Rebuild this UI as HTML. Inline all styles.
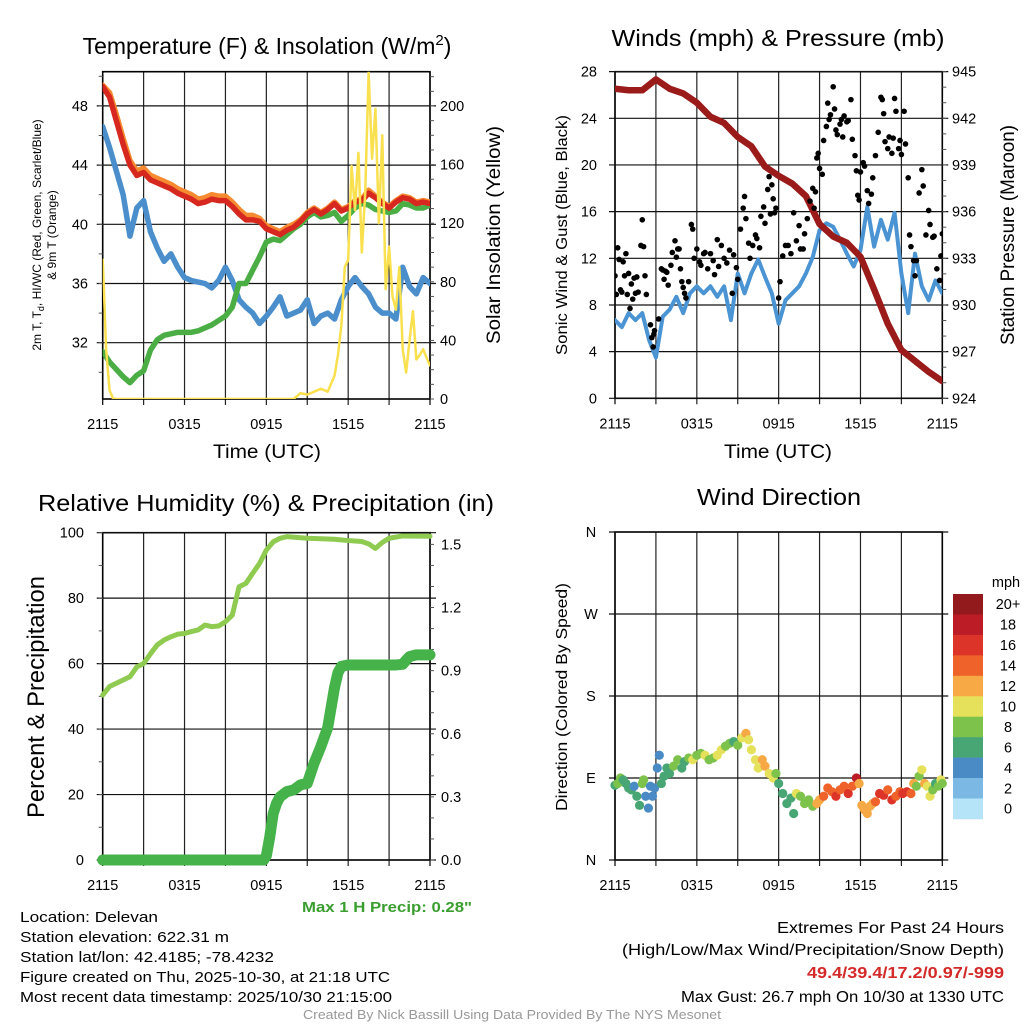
<!DOCTYPE html>
<html><head><meta charset="utf-8">
<style>
html,body{margin:0;padding:0;background:#fff;}
svg{display:block;font-family:"Liberation Sans",Arial,sans-serif;}
</style></head>
<body>
<svg id="fig" xmlns="http://www.w3.org/2000/svg" width="1024" height="1024" viewBox="0 0 1024 1024">
<rect width="1024" height="1024" fill="#fff"/>
<g id="g1"></g>
<g id="g2"></g>
<g id="g3"></g>
<g id="g4"></g>

<text x="267" y="54" font-size="23" text-anchor="middle">Temperature (F) &amp; Insolation (W/m<tspan dy="-9" font-size="15">2</tspan><tspan dy="9">)</tspan></text>
<text x="778" y="46" font-size="23" text-anchor="middle" textLength="333" lengthAdjust="spacingAndGlyphs">Winds (mph) &amp; Pressure (mb)</text>
<text x="266" y="511" font-size="23" text-anchor="middle" textLength="456" lengthAdjust="spacingAndGlyphs">Relative Humidity (%) &amp; Precipitation (in)</text>
<text x="779" y="505" font-size="23" text-anchor="middle" textLength="164" lengthAdjust="spacingAndGlyphs">Wind Direction</text>

<text x="267" y="458" font-size="19" text-anchor="middle" textLength="108" lengthAdjust="spacingAndGlyphs">Time (UTC)</text>
<text x="778" y="458" font-size="19" text-anchor="middle" textLength="108" lengthAdjust="spacingAndGlyphs">Time (UTC)</text>

<text transform="translate(41,235) rotate(-90)" font-size="12" text-anchor="middle">2m T, T<tspan dy="3" font-size="9">d</tspan><tspan dy="-3">, HI/WC (Red, Green, Scarlet/Blue)</tspan></text>
<text transform="translate(56,235) rotate(-90)" font-size="12" text-anchor="middle">&amp; 9m T (Orange)</text>
<text transform="translate(500,235) rotate(-90)" font-size="19" text-anchor="middle" textLength="218" lengthAdjust="spacingAndGlyphs">Solar Insolation (Yellow)</text>
<text transform="translate(567,235) rotate(-90)" font-size="16" text-anchor="middle" textLength="240" lengthAdjust="spacingAndGlyphs">Sonic Wind &amp; Gust (Blue, Black)</text>
<text transform="translate(1014,235) rotate(-90)" font-size="19" text-anchor="middle" textLength="220" lengthAdjust="spacingAndGlyphs">Station Pressure (Maroon)</text>
<text transform="translate(44,697) rotate(-90)" font-size="24" text-anchor="middle" textLength="242" lengthAdjust="spacingAndGlyphs">Percent &amp; Precipitation</text>
<text transform="translate(567,697) rotate(-90)" font-size="16" text-anchor="middle" textLength="228" lengthAdjust="spacingAndGlyphs">Direction (Colored By Speed)</text>

<text x="472" y="912" font-size="15" font-weight="bold" fill="#3a9e2f" text-anchor="end" textLength="170" lengthAdjust="spacingAndGlyphs">Max 1 H Precip: 0.28"</text>

<g font-size="15">
<text x="20" y="922" textLength="138" lengthAdjust="spacingAndGlyphs">Location: Delevan</text>
<text x="20" y="942" textLength="209" lengthAdjust="spacingAndGlyphs">Station elevation: 622.31 m</text>
<text x="20" y="962" textLength="254" lengthAdjust="spacingAndGlyphs">Station lat/lon: 42.4185; -78.4232</text>
<text x="20" y="982" textLength="370" lengthAdjust="spacingAndGlyphs">Figure created on Thu, 2025-10-30, at 21:18 UTC</text>
<text x="20" y="1002" textLength="372" lengthAdjust="spacingAndGlyphs">Most recent data timestamp: 2025/10/30 21:15:00</text>
</g>
<g font-size="15.5" text-anchor="end">
<text x="1004" y="933" textLength="227" lengthAdjust="spacingAndGlyphs">Extremes For Past 24 Hours</text>
<text x="1004" y="955" textLength="382" lengthAdjust="spacingAndGlyphs">(High/Low/Max Wind/Precipitation/Snow Depth)</text>
<text x="1004" y="978" font-weight="bold" fill="#d42a2a" textLength="197" lengthAdjust="spacingAndGlyphs">49.4/39.4/17.2/0.97/-999</text>
<text x="1004" y="1002" textLength="323" lengthAdjust="spacingAndGlyphs">Max Gust: 26.7 mph On 10/30 at 1330 UTC</text>
</g>
<text x="512" y="1019" font-size="12.5" fill="#999" text-anchor="middle" textLength="418" lengthAdjust="spacingAndGlyphs">Created By Nick Bassill Using Data Provided By The NYS Mesonet</text>
</svg>

<script>
// ---- Panel 1 data (half-hourly, hours since 2115) ----
const tempRed = [49.3,48.6,47.0,45.4,44.0,43.3,43.5,43.0,42.8,42.6,42.4,42.1,41.9,41.7,41.4,41.5,41.7,41.6,41.6,41.2,40.7,40.3,40.3,40.2,39.7,39.5,39.3,39.6,39.8,40.2,40.7,41.0,40.7,41.0,41.4,40.9,41.1,41.5,41.6,42.1,41.8,41.4,41.1,41.5,41.8,41.7,41.4,41.5,41.4];
const tempOrange = [49.4,48.9,47.4,45.8,44.3,43.6,43.8,43.3,43.1,42.9,42.7,42.4,42.2,42.0,41.7,41.8,42.0,41.9,41.9,41.5,41.0,40.6,40.6,40.4,39.9,39.7,39.5,39.8,40.0,40.3,40.8,41.1,40.8,41.1,41.5,41.0,41.2,41.6,41.7,42.3,41.9,41.5,41.2,41.6,41.9,41.8,41.5,41.6,41.5];
const tempGreen = [31.4,30.7,30.2,29.7,29.3,29.8,30.1,31.5,32.2,32.5,32.6,32.7,32.7,32.7,32.8,33.0,33.2,33.5,33.8,34.4,36.0,36.0,36.9,37.8,38.8,39.0,38.9,39.3,39.7,40.0,40.5,40.8,40.5,40.6,40.8,40.2,40.6,41.1,41.4,41.3,41.0,40.9,40.8,40.9,41.4,41.3,41.1,41.1,41.3];
const tempBlue = [46.6,45.2,43.6,42.0,39.2,41.1,41.6,39.5,38.4,37.5,38.0,37.1,36.4,36.2,36.1,36.0,35.7,36.2,37.1,36.2,34.9,34.4,34.0,33.3,33.8,34.4,35.1,33.8,34.0,34.2,34.9,33.3,33.8,34.0,33.6,34.9,35.8,36.4,35.8,35.3,34.4,34.0,34.0,33.6,37.1,35.8,35.3,36.4,36.0];
const solarT = [0,0.1,0.25,0.5,0.75,1,14,14.5,15,15.5,16,16.5,17,17.25,17.5,17.75,18,18.25,18.5,18.75,19,19.25,19.5,19.75,20,20.25,20.5,20.75,21,21.25,21.5,21.75,22,22.25,22.5,22.75,23,23.25,23.5,23.75,24];
const solarV = [95,72,34,6,0.5,0,0,4,3,5,7,5,16,30,50,90,95,159,129,168,100,141,223,164,198,120,180,75,104,70,61,90,34,18,40,60,27,30,34,28,23];
const tempTicks = [32,36,40,44,48];
const solarTicks = [0,40,80,120,160,200];
const timeLabels = ["2115","0315","0915","1515","2115"];
// ---- Panel 2 data ----
const pressure = [943.9,943.8,943.8,944.5,943.9,943.6,943.0,942.1,941.7,940.8,940.2,938.9,938.3,937.8,937.0,935.2,934.4,934.0,933.1,931.0,928.8,927.1,926.4,925.7,925.1];
const windSpeed = [6.7,6.1,7.3,6.7,7.3,5.0,3.5,7.0,7.6,8.7,7.3,9.0,9.6,9.0,9.6,8.7,9.6,6.7,10.7,9.0,10.7,11.9,10.4,9.0,6.4,8.4,9.0,9.6,10.7,12.1,14.4,15.0,14.7,13.6,12.4,11.3,12.7,16.4,13.0,15.3,13.6,15.9,10.7,7.3,12.4,9.6,8.4,10.1,9.0];
const gustT = [0,0.1,0.2,0.3,0.4,0.5,0.6,0.7,0.8,0.9,1,1.1,1.2,1.3,1.4,1.5,1.6,1.7,1.9,2.0,2.1,2.2,2.3,2.6,2.7,2.8,2.85,2.9,3.2,3.4,3.5,3.6,3.7,3.8,3.9,4.1,4.2,4.4,4.5,4.6,4.7,4.8,4.9,5.0,5.1,5.2,5.4,5.6,5.7,5.8,6.0,6.2,6.3,6.5,6.6,6.8,7.0,7.2,7.3,7.5,7.6,7.8,8.0,8.2,8.4,8.6,8.7,8.9,9.0,9.2,9.4,9.5,9.6,9.8,9.9,10.1,10.3,10.4,10.6,10.7,10.9,11.0,11.2,11.3,11.4,11.5,11.6,11.7,11.8,12.0,12.1,12.3,12.5,12.7,12.9,13.1,13.3,13.5,13.6,13.8,13.9,14.1,14.3,14.5,14.6,14.7,14.8,14.9,15.0,15.2,15.3,15.5,15.6,15.7,15.8,16.0,16.1,16.2,16.3,16.5,16.6,16.7,16.8,17.0,17.1,17.3,17.4,17.6,17.7,17.8,17.9,18.0,18.2,18.3,18.5,18.6,18.8,18.9,19.1,19.3,19.5,19.6,19.7,19.8,20.0,20.1,20.3,20.4,20.5,20.6,20.8,20.9,21.0,21.2,21.3,21.5,21.6,21.7,21.9,22.0,22.1,22.3,22.5,22.6,22.8,23.0,23.1,23.3,23.4,23.6,23.8,23.9,24.0];
const gustV = [10.5,8.9,12.9,11.9,9.3,9.1,11.7,10.5,12.4,8.9,10.7,7.7,9.8,8.5,10.3,9.0,10.4,9.1,13.1,15.3,13.0,10.5,8.9,6.3,5.2,4.4,5.5,5.8,6.8,11.1,11.0,10.2,10.9,10.8,9.7,11.4,12.5,13.5,12.1,12.8,12.8,11.1,10.0,9.5,9.0,8.6,10.0,14.9,14.5,12.0,12.8,11.7,11.4,12.4,12.5,11.1,12.4,11.8,10.6,13.6,11.3,13.1,12.0,11.6,12.7,9.0,12.3,11.2,10.2,14.5,16.3,17.3,15.4,13.3,12.0,13.1,14.0,13.7,12.9,15.6,16.4,15.0,17.9,19.0,15.8,18.3,17.1,15.9,16.3,8.6,10.0,12.2,13.1,13.1,12.4,15.9,13.5,14.8,12.8,12.8,14.1,15.4,16.9,18.0,16.3,17.7,20.6,21.0,19.7,19.2,22.1,23.3,25.3,23.9,24.3,26.7,24.8,23.0,22.6,23.5,23.9,22.4,24.2,23.7,23.8,25.6,22.2,20.8,19.5,17.4,17.0,19.4,20.2,19.9,17.8,16.7,17.5,18.9,20.8,22.8,25.8,25.6,24.4,22.0,21.4,22.4,21.0,22.3,25.7,24.6,21.4,22.1,20.9,24.6,21.8,18.9,14.0,13.0,11.8,10.5,11.8,17.6,19.6,18.2,14.0,16.1,14.9,13.8,13.9,11.1,10.1,12.2,14.1];
const windTicks = [0,4,8,12,16,20,24,28];
const pressTicks = [924,927,930,933,936,939,942,945];
// ---- Panel 3 data ----
const rhT = [0,0.5,1,1.5,2,2.5,3,3.5,4,4.5,5,5.5,6,6.5,7,7.5,8,8.5,9,9.5,10,10.5,11,11.5,12,12.5,13,13.5,15,17,18,19,19.5,20,20.5,21,22,24];
const rhV = [50.4,53,54,55,56,59,60,63,65.7,67.2,68.2,69,69.2,69.8,70.3,71.8,71.3,71.5,72.8,74.8,83.5,84.5,87.6,90.6,94.7,97.2,98.3,98.8,98.3,98.0,97.6,97.3,96.6,95.2,97.0,98.3,99,98.9];
const precipT = [0,11.8,12,12.25,12.5,12.75,13,13.5,14,14.5,15,15.5,16,16.5,17,17.25,17.5,18,21.5,22,22.25,22.5,23,24];
const precipV = [0,0,0.02,0.11,0.22,0.27,0.30,0.325,0.333,0.357,0.364,0.46,0.54,0.63,0.82,0.89,0.92,0.927,0.927,0.93,0.95,0.967,0.975,0.975];
const rhTicks = [0,20,40,60,80,100];
const precipTicks = [0,0.3,0.6,0.9,1.2,1.5];
// ---- Panel 4 data ----
const dirT = [0,0.2,0.4,0.6,0.8,1.0,1.2,1.4,1.6,1.8,2.0,2.1,2.25,2.45,2.6,2.75,2.9,3.1,3.25,3.4,3.6,3.8,4.0,4.3,4.6,4.9,5.1,5.4,5.7,6.0,6.3,6.6,6.9,7.2,7.5,7.8,8.1,8.4,8.7,9.0,9.3,9.6,9.8,10.0,10.3,10.5,10.8,11.0,11.3,11.6,11.8,12.0,12.3,12.6,12.9,13.1,13.3,13.6,13.9,14.2,14.5,14.8,15.0,15.3,15.6,15.9,16.2,16.5,16.8,17.1,17.4,17.7,17.9,18.1,18.3,18.5,18.7,18.9,19.1,19.4,19.7,20.0,20.3,20.6,20.9,21.1,21.4,21.7,21.9,22.1,22.3,22.5,22.7,22.9,23.1,23.3,23.5,23.7,23.9,24.0];
const dirDeg = [82,84,90,88,84,79,77,81,70,60,84,88,70,57,81,70,79,101,115,84,92,101,95,103,110,101,108,112,110,115,117,115,110,112,115,121,125,128,130,126,134,139,132,121,110,101,110,103,95,90,95,84,73,62,68,51,73,70,62,66,59,62,66,70,79,75,70,77,81,73,81,90,84,60,55,51,59,62,64,73,71,77,66,70,75,73,75,73,84,81,92,99,84,81,70,77,84,81,88,84];
const dirSpd = [6,8,8,6,6,6,6,4,6,6,8,8,4,4,4,4,4,4,4,6,6,6,6,8,8,6,6,8,10,8,8,10,8,8,10,10,8,8,6,8,10,12,10,10,10,10,12,12,10,10,8,6,6,6,6,6,10,8,8,8,8,12,12,14,14,14,16,14,14,16,14,18,12,12,12,12,12,12,14,16,16,14,16,14,14,16,16,14,12,8,8,10,12,10,10,8,6,8,10,8];
const dirTicks = ["N","E","S","W","N"];
const speedBins = ["0","2","4","6","8","10","12","14","16","18","20+"];
const binColors = ["#b5e3f8","#7bb9e4","#4a8bc6","#48a675","#7dc24b","#e6e15b","#f6a945","#ef6229","#dd3429","#bb1c25","#931a1c"];

const NS = "http://www.w3.org/2000/svg";
function mk(parent, tag, attrs) {
  const e = document.createElementNS(NS, tag);
  for (const k in attrs) e.setAttribute(k, attrs[k]);
  parent.appendChild(e);
  return e;
}
function pathD(xs, ys) {
  let d = "";
  for (let i = 0; i < xs.length; i++) d += (i ? "L" : "M") + xs[i].toFixed(2) + "," + ys[i].toFixed(2);
  return d;
}
function halfHours(n) { const a = []; for (let i = 0; i < n; i++) a.push(i * 0.5); return a; }
function hours(n) { const a = []; for (let i = 0; i < n; i++) a.push(i); return a; }

function frame(g, P, nameBase) {
  const sx = h => P.x0 + h / 24 * (P.x1 - P.x0);
  for (let i = 0; i <= 8; i++) {
    const x = sx(i * 3);
    const gl = mk(g, "line", {x1: x, x2: x, y1: P.y0, y2: P.y1 + 6, stroke: i % 8 === 0 ? "#000" : "#222", "stroke-width": 1.2});
    
    
  }
  for (let i = 0; i < 5; i++) {
    const t = mk(g, "text", {x: sx(i * 6), y: P.y1 + 30, "font-size": 14.5, "text-anchor": "middle"});
    t.textContent = timeLabels[i];
    
    
  }
  const r = mk(g, "rect", {x: P.x0, y: P.y0, width: P.x1 - P.x0, height: P.y1 - P.y0, fill: "none", stroke: "#000", "stroke-width": 1.6});
  
  
  return sx;
}
function hgrid(g, P, ys, nameBase) {
  ys.forEach(y => {
    const l = mk(g, "line", {x1: P.x0 - 6, x2: P.x1 + 6, y1: y, y2: y, stroke: "#111", "stroke-width": 1.2});
    
    
  });
}
function labels(g, vals, yf, x, anchor, fmt, nameBase) {
  vals.forEach(v => {
    const t = mk(g, "text", {x: x, y: yf(v) + 5, "font-size": 14.5, "text-anchor": anchor});
    t.textContent = fmt(v);
    
    
  });
}
function minorTicks(g, x, dir, yf, from, to, step) {
  for (let v = from; v <= to + 1e-9; v += step) {
    mk(g, "line", {x1: x, x2: x + dir * 4, y1: yf(v), y2: yf(v), stroke: "#555", "stroke-width": 1});
  }
}

// ===== Panel 1 =====
(function () {
  const g = document.getElementById("g1");
  const P = {x0: 102.7, x1: 430, y0: 71.7, y1: 399};
  const yT = t => 342.7 - (t - 32) * 14.8;
  const yS = s => 399 - s * 1.465;
  const sx = frame(g, P, "temp");
  hgrid(g, P, tempTicks.map(yT), "temp");
  minorTicks(g, P.x0, -1, yT, 30, 50, 2);
  minorTicks(g, P.x1, 1, yS, 0, 220, 10);
  labels(g, tempTicks, yT, 88, "end", v => String(v), "temp-y-tick-label");
  labels(g, solarTicks, yS, 440, "start", v => String(v), "solar-y-tick-label");
  const cp = mk(g, "clipPath", {id: "c1"});
  mk(cp, "rect", {x: P.x0, y: P.y0, width: P.x1 - P.x0, height: P.y1 - P.y0});
  const dg = mk(g, "g", {"clip-path": "url(#c1)", fill: "none", "stroke-linejoin": "round", "stroke-linecap": "round"});
  const hh = halfHours(49);
  const series = [[tempBlue, "#4a8fcc", "dewpoint-line-blue"], [tempGreen, "#4aae45", "dewpoint-line-green"], [tempOrange, "#f58a30", "temp-9m-line-orange"], [tempRed, "#d7281f", "temp-2m-line-red"]];
  series.forEach(s => {
    const p = mk(dg, "path", {d: pathD(hh.map(sx), s[0].map(yT)), stroke: s[1], "stroke-width": 5.5});
    
    
  });
  const sp = mk(dg, "path", {d: pathD(solarT.map(sx), solarV.map(yS)), stroke: "#f9e04f", "stroke-width": 2.5});
  
  
})();

// ===== Panel 2 =====
(function () {
  const g = document.getElementById("g2");
  const P = {x0: 615, x1: 942.3, y0: 71.7, y1: 398.3};
  const yW = m => P.y1 - m * 11.667;
  const yP = p => P.y1 - (p - 924) * 15.556;
  const sx = frame(g, P, "wind");
  hgrid(g, P, windTicks.map(yW), "wind");
  minorTicks(g, P.x1, 1, yP, 924, 945, 1);
  labels(g, windTicks, yW, 597, "end", v => String(v), "wind-y-tick-label");
  labels(g, pressTicks, yP, 952, "start", v => String(v), "pressure-y-tick-label");
  const cp = mk(g, "clipPath", {id: "c2"});
  mk(cp, "rect", {x: P.x0, y: P.y0, width: P.x1 - P.x0, height: P.y1 - P.y0});
  const dg = mk(g, "g", {"clip-path": "url(#c2)", fill: "none", "stroke-linejoin": "round", "stroke-linecap": "round"});
  const wl = mk(dg, "path", {d: pathD(halfHours(49).map(sx), windSpeed.map(yW)), stroke: "#4b94d3", "stroke-width": 4});
  
  
  const pl = mk(dg, "path", {d: pathD(hours(25).map(sx), pressure.map(yP)), stroke: "#9b1b1b", "stroke-width": 6.5});
  
  
  for (let i = 0; i < gustT.length; i++) {
    const c = mk(dg, "circle", {cx: sx(gustT[i]), cy: yW(gustV[i]), r: 2.8, fill: "#000"});
    
    
  }
})();

// ===== Panel 3 =====
(function () {
  const g = document.getElementById("g3");
  const P = {x0: 102.7, x1: 430, y0: 532.7, y1: 860};
  const yR = r => P.y1 - r * 3.273;
  const yPr = p => P.y1 - p * 210.4;
  const sx = frame(g, P, "humidity");
  hgrid(g, P, rhTicks.map(yR), "humidity");
  minorTicks(g, P.x0, -1, yR, 0, 100, 10);
  minorTicks(g, P.x1, 1, yPr, 0, 1.5, 0.1);
  labels(g, rhTicks, yR, 84, "end", v => String(v), "humidity-y-tick-label");
  labels(g, precipTicks, yPr, 441, "start", v => v.toFixed(1), "precip-y-tick-label");
  const dg = mk(g, "g", {fill: "none", "stroke-linejoin": "round", "stroke-linecap": "round"});
  const rl = mk(dg, "path", {d: pathD(rhT.map(sx), rhV.map(yR)), stroke: "#8ecb50", "stroke-width": 5});
  
  
  const pl = mk(dg, "path", {d: pathD(precipT.map(sx), precipV.map(yPr)), stroke: "#46b24a", "stroke-width": 11});
  
  
})();

// ===== Panel 4 =====
(function () {
  const g = document.getElementById("g4");
  const P = {x0: 615, x1: 942.3, y0: 532, y1: 860};
  const yD = d => P.y1 - d * (P.y1 - P.y0) / 360;
  const sx = frame(g, P, "direction");
  const dv = [0, 90, 180, 270, 360];
  hgrid(g, P, dv.map(yD), "direction");
  dv.forEach((d, i) => {
    const t = mk(g, "text", {x: 591, y: yD(d) + 5, "font-size": 14.5, "text-anchor": "middle"});
    t.textContent = dirTicks[i];
    
    
  });
  for (let i = 0; i < dirT.length; i++) {
    const b = Math.min(10, Math.round(dirSpd[i] / 2));
    const c = mk(g, "circle", {cx: sx(dirT[i]), cy: yD(dirDeg[i]), r: 4.6, fill: binColors[b]});
    
    
  }
  // colorbar
  const cb = mk(g, "g", {});
  
  
  const bh = 20.45, top = 594;
  const mt = mk(cb, "text", {x: 1006, y: 587, "font-size": 14.5, "text-anchor": "middle"});
  mt.textContent = "mph";
  
  
  for (let i = 0; i < speedBins.length; i++) {
    const k = speedBins.length - 1 - i;
    const y = top + i * bh;
    const r = mk(cb, "rect", {x: 953, y: y, width: 30, height: bh + 0.3, fill: binColors[k]});
    
    
    const t = mk(cb, "text", {x: 1008, y: y + bh / 2 + 5, "font-size": 14.5, "text-anchor": "middle"});
    t.textContent = speedBins[k];
    
    
  }
})();
</script>
</body></html>
